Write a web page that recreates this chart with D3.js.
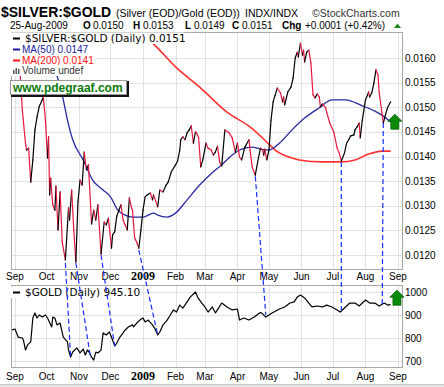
<!DOCTYPE html>
<html>
<head>
<meta charset="utf-8">
<style>
body { margin: 0; background: #fff; }
svg { display: block; font-family: "Liberation Sans", Arial, sans-serif; }
</style>
</head>
<body>
<script src="https://cdn.jsdelivr.net/npm/d3@7"></script>
<script>
// $SILVER:$GOLD ratio, daily closes
var ratioDates = [
  "2008-08-29","2008-09-02","2008-09-06","2008-09-08","2008-09-11","2008-09-12","2008-09-14","2008-09-16",
  "2008-09-18","2008-09-20","2008-09-22","2008-09-24","2008-09-27","2008-09-28","2008-09-30","2008-10-02",
  "2008-10-03","2008-10-04","2008-10-05","2008-10-07","2008-10-09","2008-10-10","2008-10-12","2008-10-14",
  "2008-10-16","2008-10-19","2008-10-22","2008-10-23","2008-10-25","2008-10-27","2008-10-29","2008-10-31",
  "2008-11-02","2008-11-04","2008-11-06","2008-11-08","2008-11-10","2008-11-11","2008-11-13","2008-11-15",
  "2008-11-17","2008-11-19","2008-11-22","2008-11-25","2008-11-27","2008-11-29","2008-12-02","2008-12-03",
  "2008-12-05","2008-12-07","2008-12-09","2008-12-11","2008-12-13","2008-12-15","2008-12-17","2008-12-19",
  "2008-12-21","2008-12-22","2008-12-24","2008-12-26","2008-12-28","2008-12-30","2009-01-01","2009-01-03",
  "2009-01-05","2009-01-08","2009-01-10","2009-01-11","2009-01-12","2009-01-15","2009-01-17","2009-01-20",
  "2009-01-23","2009-01-25","2009-01-28","2009-02-01","2009-02-03","2009-02-05","2009-02-06","2009-02-08",
  "2009-02-10","2009-02-12","2009-02-14","2009-02-16","2009-02-18","2009-02-20","2009-02-21","2009-02-23",
  "2009-02-25","2009-02-27","2009-03-02","2009-03-04","2009-03-07","2009-03-09","2009-03-11","2009-03-13",
  "2009-03-15","2009-03-17","2009-03-20","2009-03-24","2009-03-27","2009-03-30","2009-04-01","2009-04-03",
  "2009-04-05","2009-04-08","2009-04-12","2009-04-13","2009-04-15","2009-04-18","2009-04-21","2009-04-23",
  "2009-04-25","2009-04-26","2009-04-27","2009-04-29","2009-05-01","2009-05-03","2009-05-05","2009-05-07",
  "2009-05-09","2009-05-12","2009-05-14","2009-05-15","2009-05-16","2009-05-19","2009-05-22","2009-05-24",
  "2009-05-26","2009-05-28","2009-05-29","2009-05-31","2009-06-02","2009-06-03","2009-06-04","2009-06-06",
  "2009-06-08","2009-06-10","2009-06-12","2009-06-14","2009-06-16","2009-06-18","2009-06-19","2009-06-21",
  "2009-06-24","2009-06-25","2009-06-28","2009-07-02","2009-07-05","2009-07-07","2009-07-09","2009-07-12",
  "2009-07-14","2009-07-16","2009-07-18","2009-07-21","2009-07-22","2009-07-24","2009-07-26","2009-07-27",
  "2009-07-29","2009-08-01","2009-08-03","2009-08-04","2009-08-05","2009-08-07","2009-08-09","2009-08-11",
  "2009-08-13","2009-08-14","2009-08-17","2009-08-18","2009-08-20","2009-08-22","2009-08-25"
];
var ratioValues = [
  0.01596,0.01584,0.01565,0.01494,0.01427,0.01413,0.01417,0.01348,
  0.01393,0.01454,0.01480,0.01501,0.01515,0.01521,0.01474,0.01397,
  0.01440,0.01322,0.01356,0.01302,0.01291,0.01340,0.01251,0.01328,
  0.01226,0.01190,0.01296,0.01271,0.01332,0.01251,0.01186,0.01308,
  0.01352,0.01342,0.01409,0.01373,0.01383,0.01342,0.01263,0.01291,
  0.01271,0.01302,0.01202,0.01267,0.01261,0.01275,0.01214,0.01241,
  0.01247,0.01279,0.01291,0.01302,0.01271,0.01261,0.01251,0.01316,
  0.01296,0.01291,0.01235,0.01226,0.01214,0.01251,0.01291,0.01318,
  0.01322,0.01326,0.01312,0.01322,0.01316,0.01298,0.01332,0.01328,
  0.01342,0.01348,0.01369,0.01383,0.01391,0.01413,0.01434,0.01440,
  0.01434,0.01448,0.01454,0.01462,0.01427,0.01450,0.01448,0.01438,
  0.01379,0.01393,0.01427,0.01417,0.01413,0.01403,0.01409,0.01421,
  0.01389,0.01381,0.01454,0.01448,0.01438,0.01409,0.01427,0.01399,
  0.01393,0.01419,0.01434,0.01413,0.01379,0.01362,0.01397,0.01417,
  0.01413,0.01403,0.01415,0.01393,0.01413,0.01474,0.01511,0.01525,
  0.01539,0.01529,0.01511,0.01521,0.01505,0.01531,0.01541,0.01559,
  0.01600,0.01612,0.01602,0.01630,0.01606,0.01616,0.01592,0.01612,
  0.01616,0.01590,0.01525,0.01519,0.01527,0.01521,0.01501,0.01507,
  0.01499,0.01490,0.01468,0.01448,0.01417,0.01407,0.01391,0.01407,
  0.01427,0.01434,0.01442,0.01444,0.01454,0.01460,0.01468,0.01438,
  0.01474,0.01515,0.01525,0.01531,0.01521,0.01529,0.01549,0.01576,
  0.01565,0.01531,0.01484,0.01468,0.01484,0.01499,0.01511
];

// MA(50) and MA(200) as drawn
var ma50Dates = ["2008-09-30","2008-10-06","2008-10-11","2008-10-16","2008-10-21","2008-10-26","2008-11-05","2008-11-14",
  "2008-11-24","2008-12-01","2008-12-08","2008-12-15","2008-12-22","2009-01-01","2009-01-11","2009-01-15","2009-01-24",
  "2009-02-01","2009-02-12","2009-02-24","2009-03-09","2009-03-17","2009-03-27","2009-04-05","2009-04-15","2009-04-23",
  "2009-05-01","2009-05-11","2009-05-23","2009-06-04","2009-06-18","2009-06-30","2009-07-13","2009-07-29","2009-08-10",
  "2009-08-18","2009-08-25"];
var ma50Values = [0.01677,0.01606,0.01565,0.01525,0.01474,0.01434,0.01393,0.01352,
  0.01332,0.01318,0.01291,0.01281,0.01277,0.01277,0.01285,0.01281,0.01277,
  0.01285,0.01312,0.01342,0.01369,0.01383,0.01403,0.01415,0.01419,0.01415,
  0.01413,0.01427,0.01454,0.01478,0.01499,0.01515,0.01515,0.01503,0.01492,
  0.01482,0.01470];
var ma200Dates = ["2008-12-20","2009-01-10","2009-02-02","2009-02-24","2009-03-22","2009-04-13","2009-05-02","2009-05-07",
  "2009-05-20","2009-05-30","2009-06-21","2009-07-08","2009-07-22","2009-08-04","2009-08-17","2009-08-25"];
var ma200Values = [0.01663,0.01630,0.01580,0.01541,0.01490,0.01460,0.01423,0.01413,
  0.01399,0.01393,0.01389,0.01389,0.01393,0.01405,0.01411,0.01411];

// $GOLD daily
var goldDates = [
  "2008-08-29","2008-09-01","2008-09-04","2008-09-08","2008-09-09","2008-09-11","2008-09-13","2008-09-16",
  "2008-09-18","2008-09-20","2008-09-22","2008-09-24","2008-09-27","2008-09-30","2008-10-02","2008-10-06",
  "2008-10-07","2008-10-09","2008-10-11","2008-10-14","2008-10-17","2008-10-21","2008-10-22","2008-10-24",
  "2008-10-26","2008-10-30","2008-11-02","2008-11-05","2008-11-07","2008-11-09","2008-11-11","2008-11-13",
  "2008-11-15","2008-11-17","2008-11-19","2008-11-22","2008-11-24","2008-11-27","2008-11-30","2008-12-03",
  "2008-12-05","2008-12-07","2008-12-10","2008-12-13","2008-12-15","2008-12-18","2008-12-22","2008-12-23",
  "2008-12-26","2008-12-29","2009-01-01","2009-01-03","2009-01-06","2009-01-10","2009-01-12","2009-01-15",
  "2009-01-17","2009-01-20","2009-01-24","2009-01-27","2009-01-30","2009-02-02","2009-02-05","2009-02-08",
  "2009-02-12","2009-02-15","2009-02-20","2009-02-22","2009-02-26","2009-03-01","2009-03-04","2009-03-08",
  "2009-03-11","2009-03-14","2009-03-17","2009-03-22","2009-03-27","2009-04-01","2009-04-03","2009-04-07",
  "2009-04-12","2009-04-17","2009-04-22","2009-04-24","2009-04-28","2009-05-04","2009-05-11","2009-05-16",
  "2009-05-21","2009-05-25","2009-05-28","2009-05-31","2009-06-04","2009-06-08","2009-06-11","2009-06-16",
  "2009-06-21","2009-06-25","2009-06-30","2009-07-05","2009-07-08","2009-07-13","2009-07-17","2009-07-22",
  "2009-07-26","2009-08-01","2009-08-05","2009-08-10","2009-08-14","2009-08-19","2009-08-22","2009-08-25"
];
var goldValues = [
  835,839,804,800,791,748,770,783,
  887,909,887,900,891,900,887,848,
  891,887,857,865,804,783,748,717,
  739,757,735,752,726,748,735,717,
  704,739,735,748,822,813,826,791,
  765,778,804,822,835,848,857,848,
  865,878,887,870,878,857,843,813,
  826,857,878,900,922,913,943,930,
  957,978,1000,978,952,935,913,935,
  909,930,952,935,922,926,878,887,
  878,891,909,909,891,909,926,935,
  952,957,978,987,974,952,935,939,
  935,943,935,922,913,935,952,952,
  939,965,952,952,939,952,943,945.1
];

// hand-drawn blue dashed links: ratio low -> gold low
var linkRatioDates = ["2008-10-19","2008-10-29","2008-11-22","2008-12-28","2009-04-18","2009-07-09","2009-08-18"];
var linkRatioValues = [0.01184,0.01184,0.01200,0.01210,0.01360,0.01389,0.01468];
var linkGoldDates = ["2008-10-24","2008-11-12","2008-12-05","2009-01-15","2009-04-28","2009-07-09","2009-08-17"];
var linkGoldValues = [717,713,765,813,900,909,943];

var mainTicks = [0.0120,0.0125,0.0130,0.0135,0.0140,0.0145,0.0150,0.0155,0.0160];
var goldTicks = [700,800,900,1000];
var monthDates = ["2008-09-01","2008-10-01","2008-11-01","2008-12-01","2009-01-01","2009-02-01","2009-03-01",
  "2009-04-01","2009-05-01","2009-06-01","2009-07-01","2009-08-01","2009-09-01"];
var monthLabels = ["Sep","Oct","Nov","Dec","2009","Feb","Mar","Apr","May","Jun","Jul","Aug","Sep"];

var parse = d3.timeParse("%Y-%m-%d");
var W = 444, H = 387;
var main = {left: 11, right: 402, top: 32, bottom: 269};
var low = {left: 11, right: 402, top: 285, bottom: 367};

var svg = d3.select("body").append("svg").attr("width", W).attr("height", H);
svg.append("rect").attr("width", W).attr("height", H).attr("fill", "#fff");

var x = d3.scaleTime().domain([parse("2008-09-01"), parse("2009-09-01")]).range([15, 398]);
var yMain = d3.scaleLinear().domain([0.0120, 0.0160]).range([255, 58]);
var yGold = d3.scaleLinear().domain([700, 1000]).range([361, 292]);

var defs = svg.append("defs");
defs.append("clipPath").attr("id", "clipMain").append("rect")
  .attr("x", main.left).attr("y", main.top).attr("width", main.right - main.left).attr("height", main.bottom - main.top);
defs.append("clipPath").attr("id", "clipLow").append("rect")
  .attr("x", low.left).attr("y", low.top).attr("width", low.right - low.left).attr("height", low.bottom - low.top);

// grids
function grid(p, ticks, y) {
  var g = svg.append("g").attr("stroke", "#e2e2e2").attr("shape-rendering", "crispEdges");
  g.selectAll(".h").data(ticks).enter().append("line")
    .attr("x1", p.left).attr("x2", p.right)
    .attr("y1", function(d) { return Math.round(y(d)) + 0.5; })
    .attr("y2", function(d) { return Math.round(y(d)) + 0.5; });
  g.selectAll(".v").data(monthDates).enter().append("line")
    .attr("y1", p.top).attr("y2", p.bottom)
    .attr("x1", function(d) { return Math.round(x(parse(d))) + 0.5; })
    .attr("x2", function(d) { return Math.round(x(parse(d))) + 0.5; });
}
grid(main, mainTicks, yMain);
grid(low, goldTicks, yGold);

// moving averages
var maLine = d3.line().x(function(d) { return x(d.date); }).y(function(d) { return yMain(d.value); }).curve(d3.curveMonotoneX);
var ma50 = ma50Dates.map(function(d, i) { return {date: parse(d), value: ma50Values[i]}; });
var ma200 = ma200Dates.map(function(d, i) { return {date: parse(d), value: ma200Values[i]}; });
var gMain = svg.append("g").attr("clip-path", "url(#clipMain)");
gMain.append("path").datum(ma200).attr("d", maLine).attr("fill", "none").attr("stroke", "#ff3030").attr("stroke-width", 1.6);
gMain.append("path").datum(ma50).attr("d", maLine).attr("fill", "none").attr("stroke", "#2a2aa0").attr("stroke-width", 1.3);

// price line: black on up days, red on down days
var ratio = ratioDates.map(function(d, i) { return {date: parse(d), value: ratioValues[i]}; });
var pairs = d3.pairs(ratio);
gMain.selectAll(".seg").data(pairs).enter().append("line")
  .attr("x1", function(d) { return x(d[0].date); })
  .attr("y1", function(d) { return yMain(d[0].value); })
  .attr("x2", function(d) { return x(d[1].date); })
  .attr("y2", function(d) { return yMain(d[1].value); })
  .attr("stroke", function(d) { return d[1].value >= d[0].value ? "#000" : "#e8163e"; })
  .attr("stroke-width", 1.2).attr("stroke-linecap", "round");

// gold line
var gold = goldDates.map(function(d, i) { return {date: parse(d), value: goldValues[i]}; });
svg.append("g").attr("clip-path", "url(#clipLow)").append("path").datum(gold)
  .attr("d", d3.line().x(function(d) { return x(d.date); }).y(function(d) { return yGold(d.value); }))
  .attr("fill", "none").attr("stroke", "#000").attr("stroke-width", 1.2).attr("stroke-linejoin", "round");

// panel borders
[main, low].forEach(function(p) {
  svg.append("rect").attr("x", p.left + 0.5).attr("y", p.top + 0.5)
    .attr("width", p.right - p.left).attr("height", p.bottom - p.top)
    .attr("fill", "none").attr("stroke", "#a8a8a8");
});

// right axis labels
svg.selectAll(".ym").data(mainTicks).enter().append("text")
  .attr("x", 405).attr("y", function(d) { return yMain(d); }).attr("dy", "0.35em")
  .attr("font-size", 10).text(function(d) { return d3.format(".4f")(d); });
svg.selectAll(".yg").data(goldTicks).enter().append("text")
  .attr("x", 405).attr("y", function(d) { return yGold(d); }).attr("dy", "0.35em")
  .attr("font-size", 10).text(function(d) { return d; });

// month labels
[280, 380].forEach(function(yy) {
  svg.selectAll(".m" + yy).data(monthDates).enter().append("text")
    .attr("x", function(d) { return x(parse(d)); }).attr("y", yy)
    .attr("text-anchor", "middle")
    .attr("font-size", function(d, i) { return monthLabels[i] == "2009" ? 12 : 10; })
    .attr("font-family", function(d, i) { return monthLabels[i] == "2009" ? "Liberation Serif, serif" : null; })
    .attr("font-weight", function(d, i) { return monthLabels[i] == "2009" ? "bold" : null; })
    .text(function(d, i) { return monthLabels[i]; });
});

// legends
function legendLine(yy, txt, color, font, size, mark) {
  var t = svg.append("text").attr("x", 22).attr("y", yy).attr("fill", color)
    .attr("font-size", size).attr("font-family", font).text(txt);
  var w = t.node().getComputedTextLength();
  svg.insert("rect", function() { return t.node(); })
    .attr("x", 11).attr("y", yy - size + 1).attr("width", w + 13).attr("height", size + 1).attr("fill", "#fff");
  if (mark == "line") {
    svg.append("line").attr("x1", 13).attr("x2", 20).attr("y1", yy - 3.5).attr("y2", yy - 3.5)
      .attr("stroke", color).attr("stroke-width", 2);
  } else if (mark == "bars") {
    [[13, 4], [15.5, 6], [18, 5]].forEach(function(b) {
      svg.append("rect").attr("x", b[0]).attr("y", yy - b[1]).attr("width", 1.5).attr("height", b[1]).attr("fill", "#555");
    });
  }
  return t;
}
legendLine(42, "$SILVER:$GOLD (Daily) 0.0151", "#000", "DejaVu Sans", 10.5, "line").attr("x", 25);
legendLine(53, "MA(50) 0.0147", "#1a1a9c", null, 10, "line");
legendLine(64, "MA(200) 0.0141", "#ff1010", null, 10, "line");
legendLine(74, "Volume undef", "#333", null, 10, "bars");
legendLine(296, "$GOLD (Daily) 945.10", "#000", "DejaVu Sans", 10.5, "line").attr("x", 25);

// www box
svg.append("rect").attr("x", 10.5).attr("y", 80.5).attr("width", 116).attr("height", 14)
  .attr("fill", "#fff").attr("stroke", "#999");
svg.append("path").attr("d", "M128,81V96H11").attr("fill", "none").attr("stroke", "#111").attr("stroke-width", 2);
svg.append("text").attr("x", 13).attr("y", 92).attr("font-size", 12).attr("font-weight", "bold")
  .attr("fill", "#0a7a0a").text("www.pdegraaf.com");

// dashed links between panels
svg.selectAll(".link").data(linkRatioDates).enter().append("line")
  .attr("x1", function(d) { return x(parse(d)); })
  .attr("y1", function(d, i) { return yMain(linkRatioValues[i]); })
  .attr("x2", function(d, i) { return x(parse(linkGoldDates[i])); })
  .attr("y2", function(d, i) { return yGold(linkGoldValues[i]); })
  .attr("stroke", "#1530ff").attr("stroke-width", 1.2).attr("stroke-dasharray", "5,3");

// green up arrows
function upArrow(cx, top) {
  svg.append("path")
    .attr("d", "M" + cx + "," + top + "L" + (cx + 7) + "," + (top + 7) + "L" + (cx + 4) + "," + (top + 7) +
      "L" + (cx + 4) + "," + (top + 15) + "L" + (cx - 4) + "," + (top + 15) + "L" + (cx - 4) + "," + (top + 7) +
      "L" + (cx - 7) + "," + (top + 7) + "Z")
    .attr("fill", "#0a8a0a").attr("stroke", "#056005").attr("stroke-width", 0.8);
}
upArrow(x(parse("2009-08-29")), yMain(0.01486));
upArrow(x(parse("2009-08-31")), yGold(1008));

// header
svg.append("text").attr("x", 1).attr("y", 17).attr("font-size", 14).attr("font-weight", "bold").text("$SILVER:$GOLD");
svg.append("text").attr("x", 116).attr("y", 17).attr("font-size", 10.5).text("(Silver (EOD)/Gold (EOD))");
svg.append("text").attr("x", 245).attr("y", 17).attr("font-size", 10.5).text("INDX/INDX");
svg.append("text").attr("x", 312).attr("y", 17).attr("font-size", 10.5).attr("fill", "#333").text("\u00a9StockCharts.com");

var row2 = [[10, "25-Aug-2009", false], [83, "O", true], [93, "0.0150", false], [133, "H", true], [143, "0.0153", false],
  [185, "L", true], [194, "0.0149", false], [232, "C", true], [242, "0.0151", false], [282, "Chg", true],
  [305, "+0.0001 (+0.42%)", false]];
svg.selectAll(".r2").data(row2).enter().append("text")
  .attr("x", function(d) { return d[0]; }).attr("y", 28.5).attr("font-size", 10)
  .attr("font-weight", function(d) { return d[2] ? "bold" : null; })
  .text(function(d) { return d[1]; });
svg.append("path").attr("d", "M394,28L397.5,23.5L401,28Z").attr("fill", "#1a8a1a");

// bottom frame
svg.append("rect").attr("x", 0).attr("y", 384).attr("width", W).attr("height", 3).attr("fill", "#e4e4e4");
svg.append("line").attr("x1", 0).attr("x2", W).attr("y1", 384.5).attr("y2", 384.5).attr("stroke", "#c8c8c8");
</script>
</body>
</html>
